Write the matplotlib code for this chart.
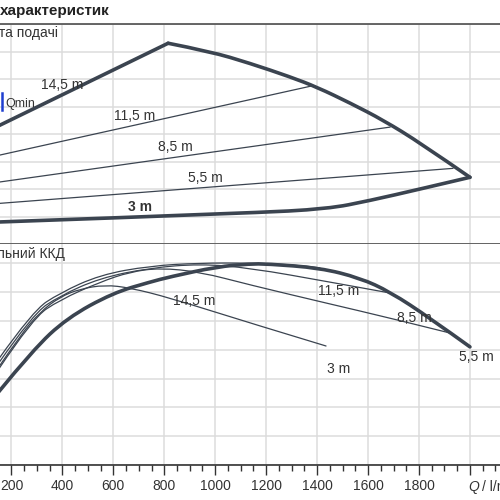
import matplotlib
matplotlib.use("Agg")
import matplotlib.pyplot as plt
import matplotlib.ticker as ticker
from matplotlib.path import Path
from matplotlib.patches import PathPatch

plt.rcParams["font.family"] = ["Liberation Sans", "DejaVu Sans"]

LINE = "#3b4450"
GRID = "#dcdcdc"
TEXT = "#333333"

# --- upper panel: head H (m) over Q (l/min) ---
h145_q = [150, 815]
h145_h = [8.6, 14.6]
hmax_q = [815, 980, 1135, 1295, 1400, 1530, 1660, 1805, 2000]
hmax_h = [14.6, 14.0, 13.15, 12.15, 11.4, 10.25, 9.0, 7.35, 4.85]
h3_q = [150, 1135, 1440, 1605, 1805, 2000]
h3_h = [1.6, 2.25, 2.55, 3.15, 4.0, 4.85]
h115_q = [150, 1380]
h115_h = [6.45, 11.5]
h85_q = [150, 1686]
h85_h = [4.5, 8.5]
h55_q = [150, 1933]
h55_h = [2.95, 5.5]
qmin_q = 162
qmin_h = [9.75, 11.0]

# --- lower panel: efficiency (%) over Q (l/min) ---
e_thick_q = [150, 284, 418, 598, 744, 822, 1007, 1136, 1203, 1411, 1568, 1686, 1843, 2000]
e_thick = [25.4, 39.9, 51.0, 59.7, 63.5, 65.3, 68.8, 69.8, 69.8, 68.4, 64.9, 60.1, 51.0, 41.0]
e145_q = [150, 233, 312, 390, 469, 567, 665, 822, 1136, 1435]
e145 = [34.0, 44.8, 53.1, 58.3, 61.1, 62.5, 61.5, 58.0, 49.3, 41.3]
e115_q = [150, 284, 390, 548, 744, 940, 1136, 1450, 1686]
e115 = [35.4, 52.4, 58.7, 64.9, 68.4, 69.8, 68.4, 63.5, 59.7]
e85_q = [150, 284, 390, 548, 665, 783, 940, 1136, 1450, 1686, 1922]
e85 = [33.3, 51.0, 57.3, 63.5, 67.0, 68.4, 67.0, 62.5, 55.9, 51.0, 45.8]
e3_q = [150, 284, 390, 548, 744, 940, 1136, 1333, 1411]
e3 = [36.8, 53.5, 59.7, 66.0, 69.1, 70.1, 70.1, 69.4, 68.4]

q_ticks = list(range(200, 2001, 200))
q_labels = [str(q) for q in q_ticks[:-1]] + [""]


def smooth_curve(ax, xs, ys, lw):
    # quadratic bezier through the midpoints, read points act as control points
    pts = list(zip(xs, ys))
    verts = [pts[0]]
    codes = [Path.MOVETO]
    for i in range(1, len(pts) - 1):
        nxt = pts[i + 1] if i == len(pts) - 2 else (
            (pts[i][0] + pts[i + 1][0]) / 2, (pts[i][1] + pts[i + 1][1]) / 2)
        verts += [pts[i], nxt]
        codes += [Path.CURVE3, Path.CURVE3]
    if len(pts) == 2:
        verts.append(pts[1])
        codes.append(Path.LINETO)
    ax.add_patch(PathPatch(Path(verts, codes), fill=False, edgecolor=LINE, lw=lw,
                           capstyle="round", joinstyle="round"))


fig = plt.figure(figsize=(5, 5), dpi=100)
ax_h = fig.add_axes([0, 0.512, 1, 0.44])
ax_e = fig.add_axes([0, 0.07, 1, 0.442], sharex=ax_h)

for ax in (ax_h, ax_e):
    ax.set_xlim(155, 2118)
    ax.set_xticks(q_ticks)
    ax.grid(True, color=GRID, linewidth=1.1)
    ax.set_axisbelow(True)
    ax.tick_params(axis="y", left=False, labelleft=False)
    ax.spines["left"].set_visible(False)
    ax.spines["right"].set_visible(False)

ax_h.set_ylim(0, 16)
ax_h.set_yticks(range(0, 17, 2))
ax_h.tick_params(axis="x", which="both", bottom=False, labelbottom=False)
ax_h.spines["top"].set_color("#4d4d4d")
ax_h.spines["top"].set_linewidth(1.2)
ax_h.spines["bottom"].set_color("#4d4d4d")
ax_h.spines["bottom"].set_linewidth(1.2)

ax_e.set_ylim(0, 76.7)
ax_e.set_yticks(range(0, 71, 10))
ax_e.spines["top"].set_visible(False)
ax_e.spines["bottom"].set_color("#333333")
ax_e.spines["bottom"].set_linewidth(1.2)
ax_e.xaxis.set_minor_locator(ticker.MultipleLocator(50))
ax_e.set_xticklabels(q_labels, fontsize=10, color=TEXT)
ax_e.tick_params(axis="x", which="major", direction="out", length=7, width=1, color="#333333", pad=3)
ax_e.tick_params(axis="x", which="minor", direction="out", length=4, width=1, color="#333333")

# upper curves
ax_h.plot(h145_q, h145_h, color=LINE, lw=2.6, solid_capstyle="round")
smooth_curve(ax_h, hmax_q, hmax_h, 2.6)
smooth_curve(ax_h, h3_q, h3_h, 2.6)
for q, h in [(h115_q, h115_h), (h85_q, h85_h), (h55_q, h55_h)]:
    ax_h.plot(q, h, color=LINE, lw=0.9)
ax_h.plot([qmin_q, qmin_q], qmin_h, color="#1f3fd0", lw=1.8)

lbl = dict(fontsize=10, color=TEXT, ha="center", va="center")
ax_h.text(398, 11.55, "14,5 m", **lbl)
ax_h.text(685, 9.3, "11,5 m", **lbl)
ax_h.text(842, 7.05, "8,5 m", **lbl)
ax_h.text(960, 4.8, "5,5 m", **lbl)
ax_h.text(705, 2.7, "3 m", fontweight="bold", **lbl)
ax_h.text(175, 10.15, "Qmin", fontsize=9, color=TEXT, ha="left", va="center")
ax_h.text(383, 15.35, "Висота подачі", fontsize=10, color=TEXT, ha="right", va="center")

# lower curves
smooth_curve(ax_e, e_thick_q, e_thick, 2.6)
for q, e in [(e145_q, e145), (e115_q, e115), (e85_q, e85), (e3_q, e3)]:
    smooth_curve(ax_e, q, e, 0.9)

ax_e.text(917, 56.9, "14,5 m", **lbl)
ax_e.text(1486, 60.4, "11,5 m", **lbl)
ax_e.text(1780, 51.0, "8,5 m", **lbl)
ax_e.text(2024, 37.5, "5,5 m", **lbl)
ax_e.text(1486, 33.3, "3 m", **lbl)
ax_e.text(410, 73.3, "Загальний ККД", fontsize=10, color=TEXT, ha="right", va="center")

fig.text(0.0, 0.978, "характеристик", fontsize=11, fontweight="bold", color="#222222",
         ha="left", va="center")
fig.text(0.936, 0.026, "Q", fontsize=10, style="italic", color=TEXT, ha="left", va="center")
fig.text(0.964, 0.026, "/ l/min", fontsize=10, color=TEXT, ha="left", va="center")

fig.savefig("out.png", dpi=100)
